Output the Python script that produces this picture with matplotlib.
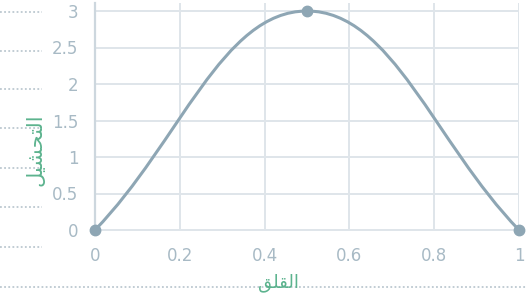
import matplotlib.pyplot as plt
from matplotlib.path import Path
from matplotlib.patches import PathPatch

# data: anxiety (x) vs achievement (y)
anxiety = [0, 0.5, 1]
achievement = [0, 3, 0]
x_ticks = [0, 0.2, 0.4, 0.6, 0.8, 1]
x_tick_labels = ["0", "0.2", "0.4", "0.6", "0.8", "1"]
y_ticks = [0, 0.5, 1, 1.5, 2, 2.5, 3]
y_tick_labels = ["0", "0.5", "1", "1.5", "2", "2.5", "3"]
# pre-shaped arabic (visual order) since matplotlib does not shape
x_title = "\ufed6\ufee0\ufed8\ufedf\ufe8d"          # القلق
y_title = "\ufede\ufef4\ufeb8\ufea4\ufe98\ufedf\ufe8d"  # التحصيل

line_col = "#8ea6b4"
grid_col = "#dfe5ea"
tick_col = "#a8bac5"
title_col = "#5cb38e"

fig = plt.figure(figsize=(5.27, 2.98), dpi=100)
ax = fig.add_axes([95 / 527, 1 - 230 / 298, 424 / 527, 227 / 298])
ax.set_xlim(0, 1)
ax.set_ylim(0, 3 * 227 / 219)

# chart.js style cubic interpolation, tension 0.4
tension = 0.4
n = len(anxiety)
cps = []
for i in range(n):
    prev = (anxiety[max(i - 1, 0)], achievement[max(i - 1, 0)])
    cur = (anxiety[i], achievement[i])
    nxt = (anxiety[min(i + 1, n - 1)], achievement[min(i + 1, n - 1)])
    d01 = ((cur[0] - prev[0]) ** 2 + (cur[1] - prev[1]) ** 2) ** 0.5
    d12 = ((nxt[0] - cur[0]) ** 2 + (nxt[1] - cur[1]) ** 2) ** 0.5
    fa = tension * d01 / (d01 + d12)
    fb = tension * d12 / (d01 + d12)
    cp_in = (cur[0] - fa * (nxt[0] - prev[0]), cur[1] - fa * (nxt[1] - prev[1]))
    cp_out = (cur[0] + fb * (nxt[0] - prev[0]), cur[1] + fb * (nxt[1] - prev[1]))
    cps.append((cp_in, cp_out))

verts = [(anxiety[0], achievement[0])]
codes = [Path.MOVETO]
for i in range(1, n):
    verts += [cps[i - 1][1], cps[i][0], (anxiety[i], achievement[i])]
    codes += [Path.CURVE4] * 3
ax.add_patch(PathPatch(Path(verts, codes), fill=False, edgecolor=line_col,
                       lw=2.2, zorder=3, clip_on=False))
ax.plot(anxiety, achievement, "o", color=line_col, ms=7.5, zorder=4, clip_on=False)

ax.set_xticks(x_ticks)
ax.set_xticklabels(x_tick_labels)
ax.set_yticks(y_ticks)
ax.set_yticklabels(y_tick_labels)
ax.grid(True, color=grid_col, lw=1.4)
ax.tick_params(length=0, labelsize=12, labelcolor=tick_col)
ax.tick_params(axis="y", pad=12)
ax.tick_params(axis="x", pad=12)
for s in ["top", "right"]:
    ax.spines[s].set_visible(False)
ax.spines["left"].set_color("#cdd7de")
ax.spines["bottom"].set_color(grid_col)
ax.spines["left"].set_linewidth(1.6)
ax.spines["bottom"].set_linewidth(1.4)

fig.text(36 / 527, 1 - 150 / 298, y_title, rotation=90, color=title_col,
         fontsize=15, ha="center", va="center")
fig.text(278 / 527, 1 - 283 / 298, x_title, color=title_col,
         fontsize=13, ha="center", va="center")

# dotted leader rows on the left and along the bottom
for yp in [12, 51, 89, 128, 168, 207, 247]:
    fig.add_artist(plt.Line2D([0, 42 / 527], [1 - yp / 298] * 2, color="#bcc8d0",
                              lw=1.3, ls=(0, (1, 1.3)), zorder=0))
fig.add_artist(plt.Line2D([0, 1], [1 - 287 / 298] * 2, color="#bcc8d0",
                          lw=1.3, ls=(0, (1, 1.3)), zorder=0))

fig.savefig("out.png", dpi=100)
